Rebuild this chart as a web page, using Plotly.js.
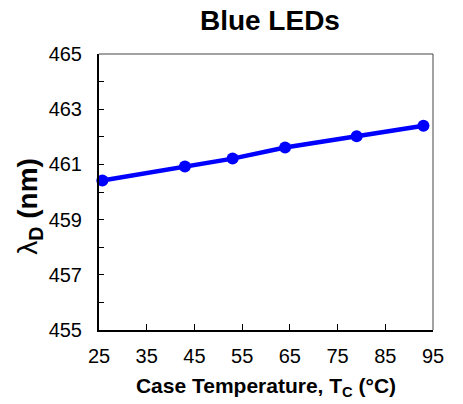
<!DOCTYPE html>
<html>
<head>
<meta charset="utf-8">
<script src="https://cdn.plot.ly/plotly-3.0.1.min.js"></script>
<style>html,body{margin:0;padding:0;background:#fff;}#chart{width:463px;height:404px;}</style>
</head>
<body>
<div id="chart"></div>
<script>
const caseTemp = [25.7, 43, 53, 64, 79, 93];
const wavelength = [460.42, 460.92, 461.21, 461.61, 462.02, 462.40];
const xTickVals = [25, 35, 45, 55, 65, 75, 85, 95];
const yTickVals = [455, 457, 459, 461, 463, 465];
const yMinorVals = [456, 458, 460, 462, 464];

const font = 'Arial, "Liberation Sans", Helvetica, sans-serif';
const trace = {
  x: caseTemp, y: wavelength, type: 'scatter', mode: 'lines+markers',
  line: {color: '#0000FF', width: 4.5},
  marker: {color: '#0000FF', size: 12},
  cliponaxis: false, showlegend: false
};
const layout = {
  width: 463, height: 404,
  margin: {l: 99, r: 30, t: 54, b: 74},
  paper_bgcolor: '#fff', plot_bgcolor: '#fff',
  font: {family: font, color: '#000'},
  title: {text: '<b>Blue LEDs</b>', font: {size: 28, family: font, color: '#000'}, x: 0.583, xanchor: 'center', y: 0.95, yanchor: 'middle'},
  xaxis: {
    range: [25, 95], tickvals: xTickVals, ticks: 'inside', ticklen: 6, tickwidth: 1, tickcolor: '#000',
    showline: true, linecolor: '#000', linewidth: 2, mirror: false, showgrid: false, zeroline: false,
    tickfont: {size: 20, family: font}, ticklabelstandoff: 7,
    title: {text: '<b>Case Temperature, T<sub>C</sub> (°C)</b>', font: {size: 21, family: font}, standoff: 12}
  },
  yaxis: {
    range: [455, 465], tickvals: yTickVals, ticks: 'inside', ticklen: 5, tickwidth: 1, tickcolor: '#000',
    minor: {tickvals: yMinorVals, ticks: 'inside', ticklen: 5, tickcolor: '#000'},
    showline: true, linecolor: '#000', linewidth: 2, showgrid: false, zeroline: false,
    tickfont: {size: 20, family: font}, ticklabelstandoff: 11
  },
  annotations: [
    {text: 'λ<b><sub>D</sub> (nm)</b>', textangle: -90, font: {size: 28, family: font, color: '#000'},
     xref: 'paper', yref: 'paper', x: -0.207, y: 0.45, xanchor: 'center', yanchor: 'middle', showarrow: false}
  ],
  shapes: [
    {type: 'line', xref: 'paper', yref: 'paper', x0: 0, x1: 1, y0: 1, y1: 1, line: {color: '#444', width: 1}},
    {type: 'line', xref: 'paper', yref: 'paper', x0: 1, x1: 1, y0: 0, y1: 1, line: {color: '#444', width: 1}}
  ]
};
Plotly.newPlot('chart', [trace], layout, {staticPlot: true, displayModeBar: false});
</script>
</body>
</html>
